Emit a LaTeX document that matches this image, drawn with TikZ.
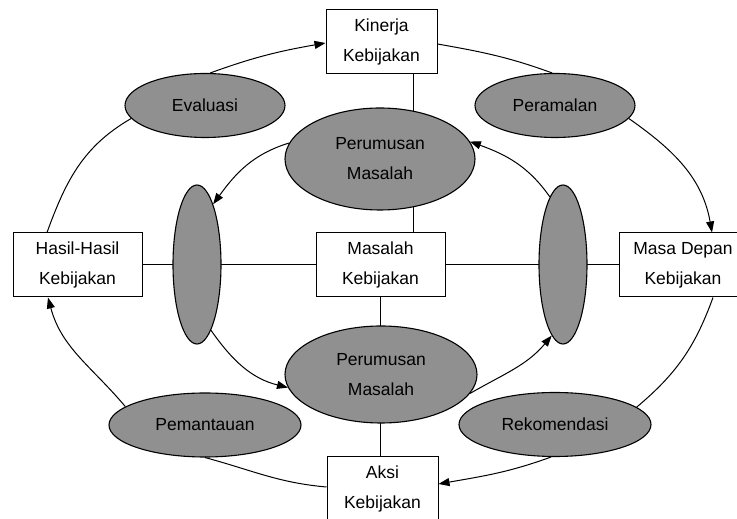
\documentclass[tikz,border=0pt]{standalone}
\usepackage{fontspec}
\setmainfont{Liberation Sans}
\usetikzlibrary{shapes.geometric,arrows.meta,backgrounds}
\definecolor{ovalgray}{HTML}{909090}
\begin{document}
\begin{tikzpicture}[x=1pt,y=1pt,
  every node/.style={font=\fontsize{17.5}{30}\selectfont, align=center, inner sep=0pt},
  box/.style={draw, fill=white, line width=1pt, minimum height=64pt},
  oval/.style={ellipse, draw, fill=ovalgray, line width=1.1pt},
  link/.style={line width=1pt},
  flow/.style={line width=1pt, -{Triangle[length=11pt,width=8pt]}}]
\useasboundingbox (0,0) rectangle (737,519);

% policy information boxes
\node[box, minimum width=111pt] (kin)   at (381.5,477) {Kinerja\\Kebijakan};
\node[box, minimum width=129pt] (hasil) at (77.5,254)  {Hasil-Hasil\\Kebijakan};
\node[box, minimum width=128pt] (masa)  at (683,254)   {Masa Depan\\Kebijakan};
\node[box, minimum width=129pt] (mk)    at (380.5,254) {Masalah\\Kebijakan};
\node[box, minimum width=111pt] (aksi)  at (382.5,30)  {Aksi\\Kebijakan};

% policy-analytic procedures
\node[oval, minimum width=160pt, minimum height=64pt] (evl) at (205,413.5) {Evaluasi};
\node[oval, minimum width=160pt, minimum height=64pt] (pml) at (555,413.5) {Peramalan};
\node[oval, minimum width=190pt, minimum height=102pt] (ptop) at (380,360) {Perumusan\\Masalah};
\node[oval, minimum width=192pt, minimum height=97pt] (pbot) at (381,144.5) {Perumusan\\Masalah};
\node[oval, minimum width=48pt, minimum height=159pt] (lt) at (197,254.5) {};
\node[oval, minimum width=48pt, minimum height=159pt] (rt) at (563,254.5) {};
\node[oval, minimum width=192pt, minimum height=64pt] (pem) at (205,94) {Pemantauan};
\node[oval, minimum width=192pt, minimum height=64pt] (rek) at (555,94.5) {Rekomendasi};

\begin{scope}[on background layer]
  % straight links through the centre
  \draw[link] ([xshift=31.5]kin.south) -- ([xshift=31.5]kin.south |- mk.north);
  \draw[link] (mk.south) -- (mk.south |- aksi.north);
  \draw[link] (hasil.east) -- (mk.west);
  \draw[link] (mk.east) -- (masa.west);
\end{scope}

% outer cycle
\draw[link] ([xshift=-30.5]hasil.north) to[out=70,in=210] (evl.190);
\draw[flow] (evl.81) to[out=20,in=190] ([yshift=-1]kin.west);
\draw[link] ([yshift=-2]kin.east) to[out=-10,in=160] (pml.95);
\draw[flow] (pml.-10) to[out=-35,in=100] ([xshift=29]masa.north);
\draw[link] ([xshift=30]masa.south) to[out=250,in=40] (rek.12);
\draw[flow] (rek.263) to[out=200,in=10] ([yshift=5]aksi.east);
\draw[link] (pem.south) to[out=-15,in=175] ([yshift=2]aksi.west);
\draw[flow] (pem.167) to[out=130,in=285] ([xshift=-29.5]hasil.south);

% inner cycle
\draw[flow] (ptop.170) to[out=197,in=54] (lt.75);
\draw[flow] (lt.-78) to[out=-55,in=166] (pbot.188);
\draw[flow] (pbot.-12) to[out=30,in=230] (rt.-99);
\draw[flow] (rt.101) to[out=125,in=-20] (ptop.11);
\end{tikzpicture}
\end{document}
